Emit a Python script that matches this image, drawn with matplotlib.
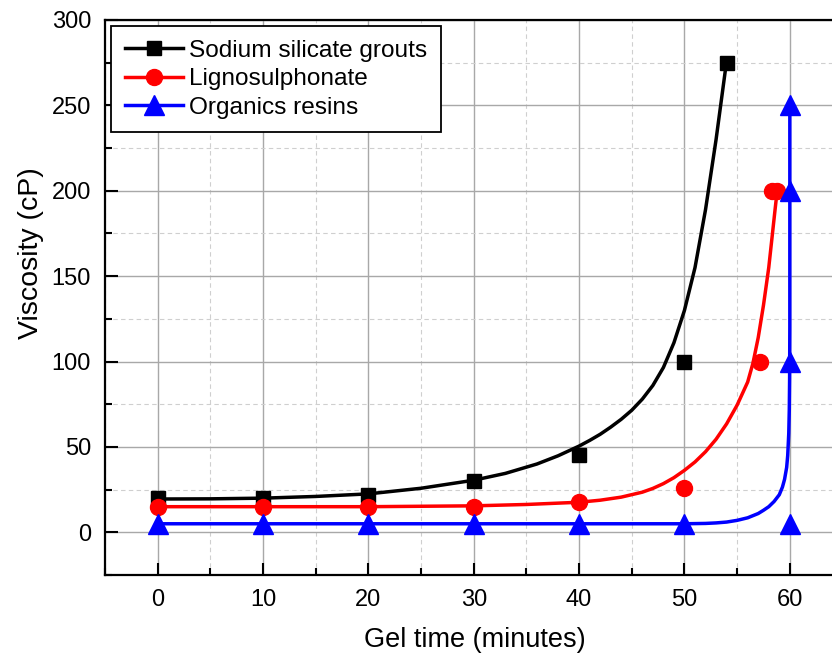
import numpy as np
import matplotlib
matplotlib.use('Agg')
import matplotlib.pyplot as plt
from matplotlib.ticker import MultipleLocator

plt.rcParams['font.family'] = ['Liberation Sans', 'DejaVu Sans']

# measured points
t_sodium = [0, 10, 20, 30, 40, 50, 54]
v_sodium = [20, 20, 22, 30, 45, 100, 275]
t_ligno = [0, 10, 20, 30, 40, 50, 57.2, 58.3, 58.8]
v_ligno = [15, 15, 15, 15, 18, 26, 100, 200, 200]
t_resin = [0, 10, 20, 30, 40, 50, 60, 60, 60, 60]
v_resin = [5, 5, 5, 5, 5, 5, 5, 100, 200, 250]

# fitted curves
fit_t_sodium = [0, 5, 10, 15, 20, 25, 30, 33, 36, 38, 40, 41, 42, 43, 44, 45, 46, 47, 48, 49,
                50, 51, 52, 53, 53.5, 54]
fit_v_sodium = [19.5, 19.6, 20, 21, 22.5, 25.8, 30.5, 34.5, 40, 44.8, 50.5, 53.8, 57.4, 61.6, 66.2,
                71.5, 78, 86, 96.5, 111, 130, 155, 189, 230, 253, 276]
fit_t_ligno = [0, 10, 20, 30, 35, 40, 42, 44, 46, 47, 48, 49, 50, 51, 52, 53, 54, 55, 56, 56.5,
               57, 57.5, 58, 58.3, 58.6, 58.8]
fit_v_ligno = [15, 15, 15, 15.5, 16.3, 17.6, 18.8, 20.6, 23.5, 25.7, 28.5, 32, 36.3, 41.2, 47.2,
               54.5, 63.5, 74.5, 88, 99, 114, 133, 155, 172, 189, 200]
fit_t_resin = [0, 50, 52, 53, 54, 55, 56, 57, 57.5, 58, 58.5, 59, 59.3, 59.5, 59.7, 59.8, 59.9,
               59.95, 59.98, 60, 60]
fit_v_resin = [5, 5, 5.2, 5.5, 6, 7, 8.5, 11, 12.9, 15, 18, 22, 26.5, 31, 38, 45, 58,
               72, 90, 120, 250]

fig = plt.figure(figsize=(8.32, 6.53), dpi=100)
ax = fig.add_axes([105/832, 78/653, 737.5/832, 555/653])

series = [
    (fit_t_sodium, fit_v_sodium, t_sodium, v_sodium, 'black', 's', 10.5, 'Sodium silicate grouts'),
    (fit_t_ligno, fit_v_ligno, t_ligno, v_ligno, 'red', 'o', 11.5, 'Lignosulphonate'),
    (fit_t_resin, fit_v_resin, t_resin, v_resin, 'blue', '^', 14, 'Organics resins'),
]
handles = []
for ft, fv, t, v, c, m, ms, lab in series:
    ax.plot(ft, fv, color=c, lw=2.5, zorder=3, solid_joinstyle='round', solid_capstyle='round')
    ax.plot(t, v, ls='none', marker=m, ms=ms, color=c, zorder=4)
    h, = ax.plot([], [], color=c, lw=2.5, marker=m, ms=ms, label=lab)
    handles.append(h)

ax.set_xlim(-5, 65)
ax.set_ylim(-25, 300)
ax.xaxis.set_major_locator(MultipleLocator(10))
ax.xaxis.set_minor_locator(MultipleLocator(5))
ax.yaxis.set_major_locator(MultipleLocator(50))
ax.yaxis.set_minor_locator(MultipleLocator(25))
ax.set_xticks([0, 10, 20, 30, 40, 50, 60])
ax.set_yticks([0, 50, 100, 150, 200, 250, 300])

ax.grid(which='major', color='#a8a8a8', lw=1.0, ls='-', zorder=0)
ax.grid(which='minor', color='#cfcfcf', lw=0.8, ls=(0, (4, 3)), zorder=0)
ax.set_axisbelow(True)

ax.tick_params(which='major', direction='in', length=9, width=1.5, labelsize=17,
               top=False, right=False, pad=10)
ax.tick_params(which='minor', direction='in', length=5, width=1.5, top=False, right=False)
for s in ax.spines.values():
    s.set_linewidth(1.6)

ax.set_xlabel('Gel time (minutes)', fontsize=19.5)
ax.set_ylabel('Viscosity (cP)', fontsize=20.5)
ax.xaxis.set_label_coords(0.502, -0.094)
ax.yaxis.set_label_coords(-0.083, 0.58)

leg = ax.legend(handles=handles, loc='upper left', fontsize=17.6, frameon=True, fancybox=False,
                edgecolor='black', framealpha=1, borderaxespad=0.25, handlelength=2.4,
                labelspacing=0.26, handletextpad=0.25, borderpad=0.55)
leg.get_frame().set_linewidth(1.3)

fig.savefig('out.png', dpi=100)
